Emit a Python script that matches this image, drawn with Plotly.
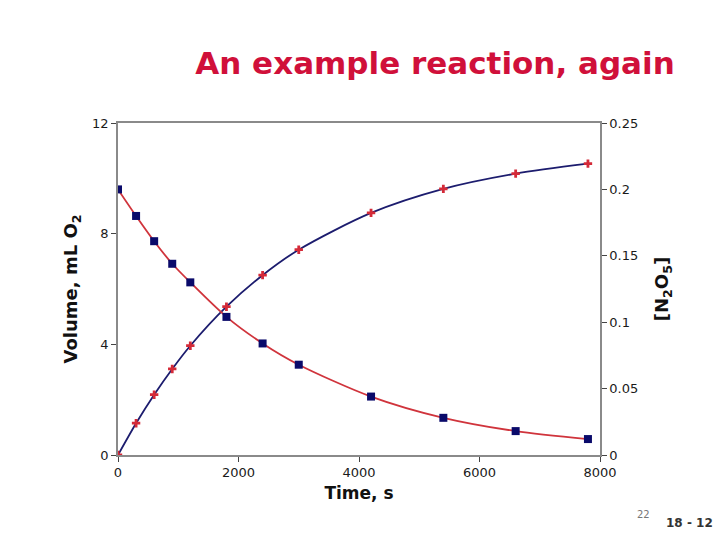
import plotly.graph_objects as go

# Data (N2O5 decomposition)
time_s = [0, 300, 600, 900, 1200, 1800, 2400, 3000, 4200, 5400, 6600, 7800]
volume_o2 = [0.0, 1.15, 2.18, 3.11, 3.95, 5.36, 6.50, 7.42, 8.75, 9.62, 10.17, 10.53]
conc_n2o5 = [0.200, 0.180, 0.161, 0.144, 0.130, 0.104, 0.084, 0.068, 0.044, 0.028, 0.018, 0.012]

x_ticks = [0, 2000, 4000, 6000, 8000]
y_ticks = [0, 4, 8, 12]
y2_ticks = [0, 0.05, 0.1, 0.15, 0.2, 0.25]
y2_ticklabels = ["0", "0.05", "0.1", "0.15", "0.2", "0.25"]

FONT = "DejaVu Sans"
AXIS_COLOR = "#8a8a8a"
TICKFONT = dict(size=13, family=FONT, color="#1a1a1a")

fig = go.Figure()

fig.add_trace(go.Scatter(
    x=time_s, y=volume_o2, mode="lines+markers",
    line=dict(color="#1c1c6e", width=1.8, shape="spline", smoothing=0.8),
    marker=dict(symbol="cross", size=7, color="#d42a38", line=dict(width=0)),
    yaxis="y", showlegend=False,
))

fig.add_trace(go.Scatter(
    x=time_s, y=conc_n2o5, mode="lines+markers",
    line=dict(color="#d0343c", width=1.8, shape="spline", smoothing=0.8),
    marker=dict(symbol="square", size=8, color="#0a0a6a", line=dict(width=0)),
    yaxis="y2", showlegend=False,
))

fig.update_layout(
    width=720, height=540,
    margin=dict(l=118, r=120, t=123, b=85),
    paper_bgcolor="white", plot_bgcolor="white",
    font=dict(family=FONT, color="#222222"),
    xaxis=dict(
        range=[0, 8000], tickvals=x_ticks, showgrid=False, zeroline=False,
        showline=True, linecolor=AXIS_COLOR, linewidth=1.5, mirror=True,
        ticks="outside", ticklen=5, tickcolor="#444", tickfont=TICKFONT,
        title=dict(text="<b>Time, s</b>", font=dict(size=17, family=FONT, color="#111"), standoff=8),
    ),
    yaxis=dict(
        range=[0, 12], tickvals=y_ticks, showgrid=False, zeroline=False,
        showline=True, linecolor=AXIS_COLOR, linewidth=1.5,
        ticks="outside", ticklen=5, tickcolor="#444", tickfont=TICKFONT,
        title=dict(text="<b>Volume, mL O<sub>2</sub></b>", font=dict(size=18, family=FONT, color="#111"), standoff=10),
    ),
    yaxis2=dict(
        range=[0, 0.25], tickvals=y2_ticks, ticktext=y2_ticklabels, overlaying="y", side="right",
        showgrid=False, zeroline=False,
        showline=True, linecolor=AXIS_COLOR, linewidth=1.5,
        ticks="outside", ticklen=5, tickcolor="#444", tickfont=TICKFONT,
        title=dict(text="<b>[N<sub>2</sub>O<sub>5</sub>]</b>", font=dict(size=18, family=FONT, color="#111"), standoff=18),
    ),
    title=dict(
        text="<b>An example reaction, again</b>",
        font=dict(size=31, family="DejaVu Sans", color="#d0103a"),
        xref="container", yref="container", x=435 / 720, xanchor="center",
        y=1 - 63 / 540, yanchor="middle",
    ),
)

fig.add_annotation(text="22", xref="paper", yref="paper", x=(643 - 118) / 482, y=-(514 - 455) / 332,
                   showarrow=False, font=dict(size=10, family=FONT, color="#777"), xanchor="center", yanchor="middle")
fig.add_annotation(text="<b>18 - 12</b>", xref="paper", yref="paper", x=(689 - 118) / 482, y=-(523 - 455) / 332,
                   showarrow=False, font=dict(size=12, family=FONT, color="#333"), xanchor="center", yanchor="middle")

fig.write_html("out.html")
